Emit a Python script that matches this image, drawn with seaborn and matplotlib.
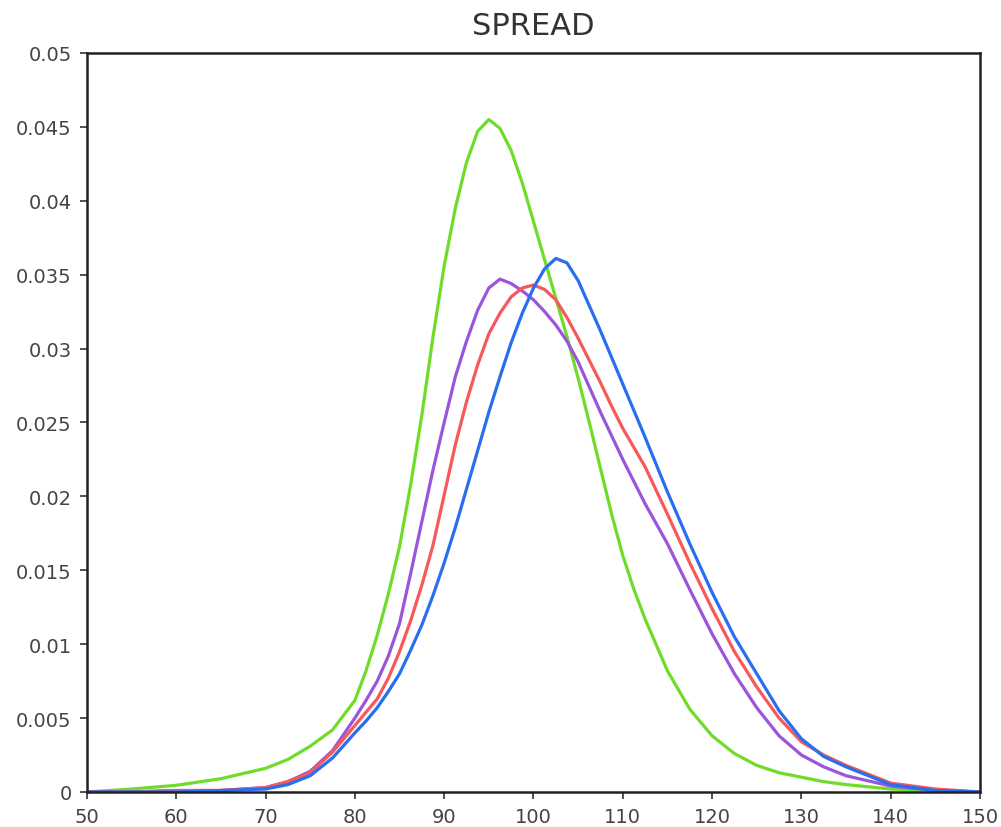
import numpy as np
import pandas as pd
import matplotlib
matplotlib.use("Agg")
import matplotlib.pyplot as plt
import seaborn as sns

x_vals = [50, 55, 60, 65, 70, 72.5, 75, 77.5, 80,
          81.25, 82.5, 83.75, 85, 86.25, 87.5, 88.75, 90, 91.25, 92.5, 93.75, 95,
          96.25, 97.5, 98.75, 100, 101.25, 102.5, 103.75, 105, 106.25, 107.5,
          108.75, 110, 111.25, 112.5,
          115, 117.5, 120, 122.5, 125, 127.5, 130, 132.5, 135, 140, 145, 150]

green = [0.0, 0.0002, 0.00045, 0.0009, 0.0016, 0.0022, 0.0031, 0.0042, 0.0062,
         0.0082, 0.0106, 0.0134, 0.0166, 0.0208, 0.0255, 0.0308, 0.0356, 0.0395,
         0.0426, 0.0447, 0.0455, 0.0449, 0.0434, 0.0412, 0.0386, 0.0360, 0.0334,
         0.0308, 0.0280, 0.0250, 0.0219, 0.0188, 0.0160, 0.0137, 0.0117,
         0.0082, 0.0056, 0.0038, 0.0026, 0.0018, 0.0013, 0.0010, 0.0007, 0.0005,
         0.0002, 0.0001, 0.0]

purple = [0.0, 0.0, 0.0001, 0.0001, 0.0003, 0.0007, 0.0014, 0.0028, 0.0050,
          0.0062, 0.0075, 0.0092, 0.0114, 0.0148, 0.0183, 0.0218, 0.0250, 0.0281,
          0.0305, 0.0326, 0.0341, 0.0347, 0.0344, 0.0339, 0.0333, 0.0325, 0.0316,
          0.0305, 0.0291, 0.0274, 0.0257, 0.0241, 0.0225, 0.0210, 0.0195,
          0.0168, 0.0137, 0.0107, 0.0080, 0.0057, 0.0038, 0.0025, 0.0017, 0.0011,
          0.0004, 0.0001, 0.0]

red = [0.0, 0.0, 0.0001, 0.0001, 0.0003, 0.0007, 0.0013, 0.0027, 0.0045,
       0.0054, 0.0063, 0.0077, 0.0095, 0.0116, 0.0140, 0.0167, 0.0201, 0.0235,
       0.0264, 0.0289, 0.0310, 0.0324, 0.0335, 0.0341, 0.0343, 0.0340, 0.0333,
       0.0321, 0.0307, 0.0292, 0.0277, 0.0261, 0.0246, 0.0233, 0.0220,
       0.0188, 0.0155, 0.0124, 0.0095, 0.0071, 0.0050, 0.0034, 0.0025, 0.0018,
       0.0006, 0.0002, 0.0]

blue = [0.0, 0.0, 0.0, 0.0001, 0.0002, 0.0005, 0.0011, 0.0023, 0.0040,
        0.0048, 0.0057, 0.0068, 0.0080, 0.0096, 0.0113, 0.0133, 0.0155, 0.0179,
        0.0205, 0.0231, 0.0257, 0.0281, 0.0304, 0.0324, 0.0341, 0.0354, 0.0361,
        0.0358, 0.0346, 0.0329, 0.0312, 0.0294, 0.0276, 0.0258, 0.0240,
        0.0203, 0.0168, 0.0135, 0.0105, 0.0080, 0.0055, 0.0036, 0.0024, 0.0017,
        0.0005, 0.0001, 0.0]

series_names = ["green", "purple", "red", "blue"]
series_colors = {"green": "#6fdc2a", "purple": "#9b55dc", "red": "#f7595a", "blue": "#2a6ef0"}
x_ticks = [50, 60, 70, 80, 90, 100, 110, 120, 130, 140, 150]
y_ticks = [0, 0.005, 0.01, 0.015, 0.02, 0.025, 0.03, 0.035, 0.04, 0.045, 0.05]
y_tick_labels = ["0", "0.005", "0.01", "0.015", "0.02", "0.025", "0.03", "0.035", "0.04", "0.045", "0.05"]
title = "SPREAD"

frames = []
for name, vals in zip(series_names, [green, purple, red, blue]):
    frames.append(pd.DataFrame({"x": x_vals, "y": vals, "series": name}))
df = pd.concat(frames, ignore_index=True)

sns.set_theme(style="white")
plt.rcParams["font.family"] = ["DejaVu Sans"]
plt.rcParams["lines.solid_joinstyle"] = "round"
plt.rcParams["lines.solid_capstyle"] = "round"

fig = plt.figure(figsize=(10.01, 8.28), dpi=100)
ax = fig.add_axes([0.0869, 0.0423, 0.8921, 0.8925])

sns.lineplot(data=df, x="x", y="y", hue="series", palette=series_colors,
             hue_order=series_names, linewidth=2.3, legend=False, ax=ax, sort=True)

ax.set_xlim(50, 150)
ax.set_ylim(0, 0.05)
ax.set_xticks(x_ticks)
ax.set_xticklabels([str(t) for t in x_ticks])
ax.set_yticks(y_ticks)
ax.set_yticklabels(y_tick_labels)
ax.set_xlabel("")
ax.set_ylabel("")
ax.tick_params(axis="both", direction="out", length=5, width=1.2, color="#333333",
               labelsize=14, labelcolor="#444444", pad=6, left=True, bottom=True)
for sp in ax.spines.values():
    sp.set_visible(True)
    sp.set_color("#222222")
    sp.set_linewidth(1.8)
ax.set_title(title, fontsize=22, color="#333333", pad=14)

fig.savefig("out.png", dpi=100)
